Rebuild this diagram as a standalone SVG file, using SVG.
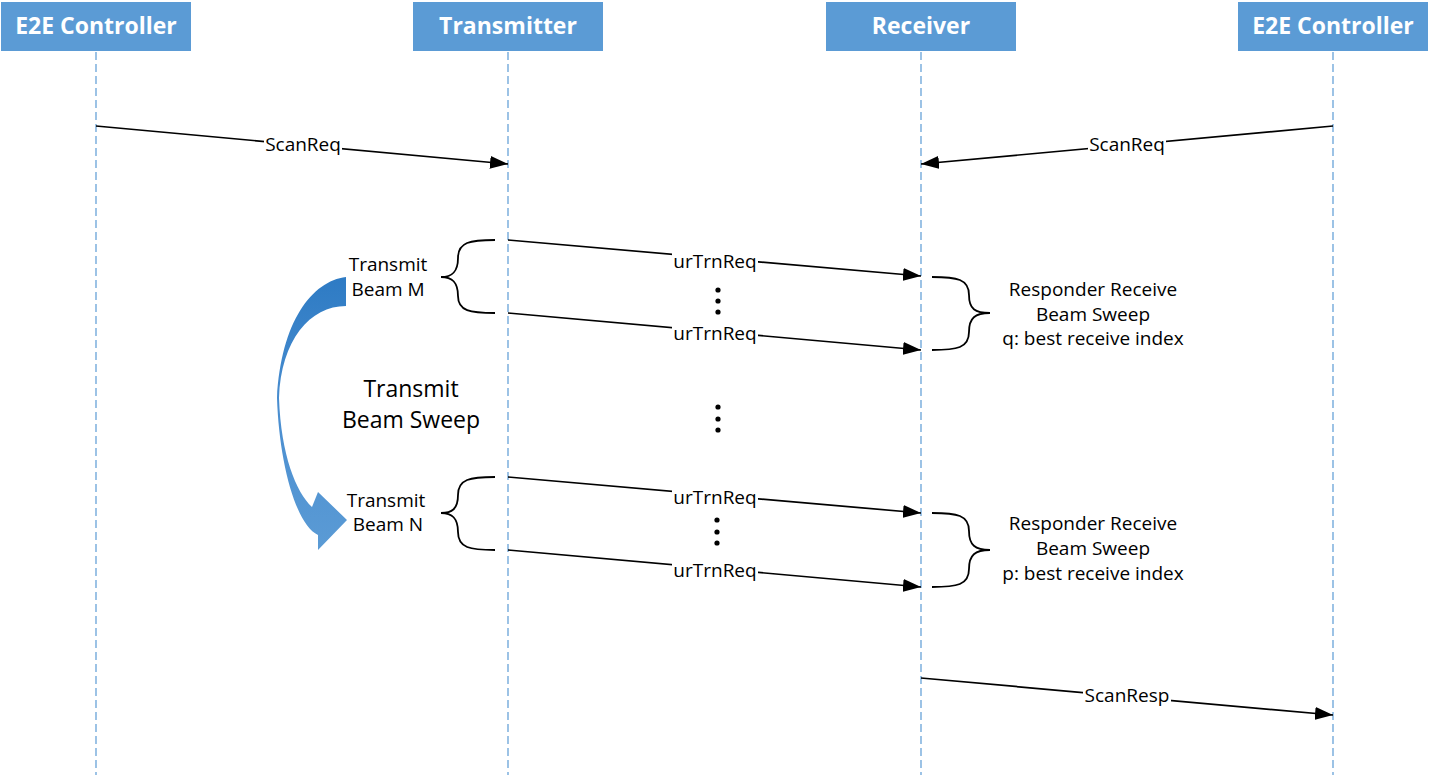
<svg xmlns="http://www.w3.org/2000/svg" width="1430" height="775" viewBox="0 0 1430 775">
<style>
.hdr{fill:#5B9BD5}
.htxt{font-family:"Open Sans","Noto Sans",sans-serif;font-weight:bold;font-size:23px;fill:#fff;text-anchor:middle}
.life{stroke:#5B9BD5;stroke-width:1.2;stroke-dasharray:8 4;fill:none}
.msg{stroke:#000;stroke-width:1.7;fill:none;marker-end:url(#ah)}
.bgr{fill:#fff}
.lbl{font-family:"Open Sans","Noto Sans",sans-serif;font-size:19px;fill:#000;text-anchor:middle}
.txt{font-family:"Open Sans","Noto Sans",sans-serif;font-size:19px;fill:#000;text-anchor:middle}
.big{font-family:"Open Sans","Noto Sans",sans-serif;font-size:23px;fill:#000;text-anchor:middle}
.brace{stroke:#000;stroke-width:1.8;fill:none}
</style>
<defs>
<marker id="ah" viewBox="0 0 18 13" refX="18" refY="6.5" markerWidth="18" markerHeight="13" markerUnits="userSpaceOnUse" orient="auto">
<path d="M0,0 L18,6.5 L0,13 Z" fill="#000"/>
</marker>
<linearGradient id="bg" x1="0" y1="0" x2="0" y2="1">
<stop offset="0" stop-color="#2E7BC4"/>
<stop offset="0.5" stop-color="#4A8ED0"/>
<stop offset="1" stop-color="#5B9BD5"/>
</linearGradient>
</defs>
<g id="lifelines">
<line class="life" x1="96" y1="52" x2="96" y2="775"/>
<line class="life" x1="508" y1="52" x2="508" y2="775"/>
<line class="life" x1="921" y1="52" x2="921" y2="775"/>
<line class="life" x1="1333" y1="52" x2="1333" y2="775"/>
</g>
<g id="e2e-left"><rect class="hdr" x="1" y="2" width="190" height="49"/><text class="htxt" x="96" y="34">E2E Controller</text></g>
<g id="transmitter"><rect class="hdr" x="413" y="2" width="190" height="49"/><text class="htxt" x="508" y="34">Transmitter</text></g>
<g id="receiver"><rect class="hdr" x="826" y="2" width="190" height="49"/><text class="htxt" x="921" y="34">Receiver</text></g>
<g id="e2e-right"><rect class="hdr" x="1238" y="2" width="190" height="49"/><text class="htxt" x="1333" y="34">E2E Controller</text></g>
<g id="connectors">
<line class="msg" x1="96" y1="126" x2="508" y2="164"/>
<line class="msg" x1="1333" y1="126" x2="921" y2="164"/>
<line class="msg" x1="508" y1="240" x2="921" y2="276"/>
<line class="msg" x1="508" y1="313" x2="921" y2="350"/>
<line class="msg" x1="508" y1="477" x2="921" y2="513"/>
<line class="msg" x1="508" y1="550" x2="921" y2="587"/>
<line class="msg" x1="921" y1="678" x2="1333" y2="715"/>
<rect class="bgr" x="264" y="136" width="78" height="20"/><text class="lbl" x="303" y="151">ScanReq</text>
<rect class="bgr" x="1088" y="136" width="78" height="20"/><text class="lbl" x="1127" y="151">ScanReq</text>
<rect class="bgr" x="672" y="253" width="86" height="20"/><text class="lbl" x="715" y="268">urTrnReq</text>
<rect class="bgr" x="672" y="325" width="86" height="20"/><text class="lbl" x="715" y="340">urTrnReq</text>
<rect class="bgr" x="672" y="489" width="86" height="20"/><text class="lbl" x="715" y="504">urTrnReq</text>
<rect class="bgr" x="672" y="562" width="86" height="20"/><text class="lbl" x="715" y="577">urTrnReq</text>
<rect class="bgr" x="1083" y="687" width="88" height="20"/><text class="lbl" x="1127" y="702">ScanResp</text>
</g>
<g id="braces">
<path class="brace" d="M495,240 C470,240 458,242 458,258 C458,272 452,277 441,277 C452,277 458,282 458,296 C458,311 470,313 495,313"/>
<path class="brace" d="M495,477 C470,477 458,479 458,495 C458,509 452,513 441,513 C452,513 458,518 458,532 C458,548 470,550 495,550"/>
<path class="brace" d="M932,277 C957,277 969,279 969,295 C969,309 975,313 990,313 C975,313 969,318 969,332 C969,348 957,350 932,350"/>
<path class="brace" d="M932,513 C957,513 969,515 969,531 C969,545 975,550 990,550 C975,550 969,555 969,569 C969,585 957,587 932,587"/>
</g>
<g id="dots" fill="#000">
<circle cx="718" cy="290" r="2.6"/><circle cx="718" cy="301" r="2.6"/><circle cx="718" cy="312" r="2.6"/>
<circle cx="718" cy="407" r="2.6"/><circle cx="718" cy="419" r="2.6"/><circle cx="718" cy="430" r="2.6"/>
<circle cx="717" cy="520" r="2.6"/><circle cx="717" cy="532" r="2.6"/><circle cx="717" cy="543" r="2.6"/>
</g>
<g id="sweep-arrow">
<path fill="url(#bg)" d="M346,277 C312,281 281,322 277,398 C279,460 295,524 318,535 L318,550 L347,520 L318,492 L312,507 C296,492 281,455 279,398 C281,340 310,306 346,306 Z"/>
</g>
<g id="labels">
<text class="txt" x="388" y="271">Transmit</text>
<text class="txt" x="388" y="296">Beam M</text>
<text class="txt" x="386" y="507">Transmit</text>
<text class="txt" x="388" y="531">Beam N</text>
<text class="big" x="411" y="397">Transmit</text>
<text class="big" x="411" y="428">Beam Sweep</text>
<text class="txt" x="1093" y="296">Responder Receive</text>
<text class="txt" x="1093" y="321">Beam Sweep</text>
<text class="txt" x="1093" y="345">q: best receive index</text>
<text class="txt" x="1093" y="530">Responder Receive</text>
<text class="txt" x="1093" y="555">Beam Sweep</text>
<text class="txt" x="1093" y="580">p: best receive index</text>
</g>
</svg>
